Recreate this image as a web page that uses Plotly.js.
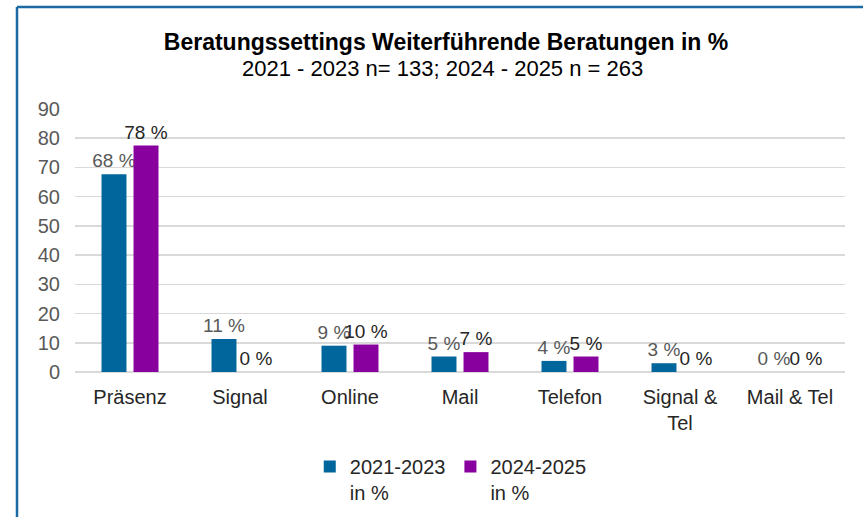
<!DOCTYPE html>
<html>
<head>
<meta charset="utf-8">
<script src="https://cdn.plot.ly/plotly-3.0.1.min.js"></script>
<style>
html,body{margin:0;padding:0;background:#fff;}
#chart{width:863px;height:517px;}
</style>
</head>
<body>
<div id="chart"></div>
<script>
const categories = ["Präsenz", "Signal", "Online", "Mail", "Telefon", "Signal &<br>Tel", "Mail & Tel"];
const series1Name = "2021-2023<br>in %";
const series2Name = "2024-2025<br>in %";
const series1Values = [67.7, 11.3, 9.0, 5.3, 3.8, 3.0, 0];
const series2Values = [77.5, 0, 9.4, 6.8, 5.3, 0, 0];
const series1Labels = ["68 %", "11 %", "9 %", "5 %", "4 %", "3 %", "0 %"];
const series2Labels = ["78 %", "0 %", "10 %", "7 %", "5 %", "0 %", "0 %"];
const yTicks = [0, 10, 20, 30, 40, 50, 60, 70, 80, 90];
const titleText = "<b>Beratungssettings Weiterführende Beratungen in %</b>";
const subtitleText = "2021 - 2023 n= 133; 2024 - 2025 n = 263";

const font = "Liberation Sans, Arial, sans-serif";

const traces = [
  {
    type: "bar", name: series1Name, x: categories, y: series1Values,
    text: series1Labels, textposition: "outside", cliponaxis: false,
    constraintext: "none",
    textfont: {family: font, size: 19, color: "#595959"},
    marker: {color: "#00669c"}, hoverinfo: "none"
  },
  {
    type: "bar", name: series2Name, x: categories, y: series2Values,
    text: series2Labels, textposition: "outside", cliponaxis: false,
    constraintext: "none",
    textfont: {family: font, size: 19, color: "#262626"},
    marker: {color: "#88009e"}, hoverinfo: "none"
  }
];

const layout = {
  width: 863, height: 517,
  margin: {l: 75, r: 18, t: 109, b: 145, autoexpand: false},
  paper_bgcolor: "#ffffff", plot_bgcolor: "#ffffff",
  font: {family: font, color: "#262626"},
  title: {
    text: titleText,
    font: {family: font, size: 23, color: "#000000"},
    xref: "container", x: 446/863, xanchor: "center",
    yref: "container", y: 1 - 42/517, yanchor: "middle"
  },
  annotations: [
    {text: subtitleText, showarrow: false, xref: "paper", yref: "paper",
     x: (442-75)/770, xanchor: "center", y: (372-68)/263, yanchor: "middle",
     font: {family: font, size: 22, color: "#000000"}}
  ],
  barmode: "group", bargap: 0.418, bargroupgap: 0.22,
  xaxis: {
    type: "category", showgrid: false, zeroline: false, showline: false,
    ticks: "", tickfont: {family: font, size: 20, color: "#262626"}, ticklabelstandoff: 11
  },
  yaxis: {
    range: [0, 90], tickvals: yTicks, showgrid: true, gridcolor: "#d9d9d9", gridwidth: 1.5,
    zeroline: true, zerolinecolor: "#d9d9d9", zerolinewidth: 1.5, showline: false,
    ticks: "", tickfont: {family: font, size: 20, color: "#595959"}, ticklabelstandoff: 14
  },
  showlegend: true,
  legend: {
    orientation: "h", xref: "paper", x: 0.488, xanchor: "center",
    yref: "container", y: 1 - 447/517, yanchor: "top", valign: "top",
    font: {family: font, size: 20, color: "#262626"},
    itemwidth: 30, tracegroupgap: 0
  },
  shapes: [
    {type: "line", xref: "paper", yref: "paper", x0: (17-75)/770, x1: (17-75)/770, y0: (372-7)/263, y1: (372-520)/263,
     line: {color: "#1b6aa3", width: 2.5}},
    {type: "line", xref: "paper", yref: "paper", x0: (17-75)/770, x1: (870-75)/770, y0: (372-7)/263, y1: (372-7)/263,
     line: {color: "#1b6aa3", width: 2.5}}
  ]
};

Plotly.newPlot("chart", traces, layout, {displayModeBar: false, staticPlot: true});
</script>
</body>
</html>
